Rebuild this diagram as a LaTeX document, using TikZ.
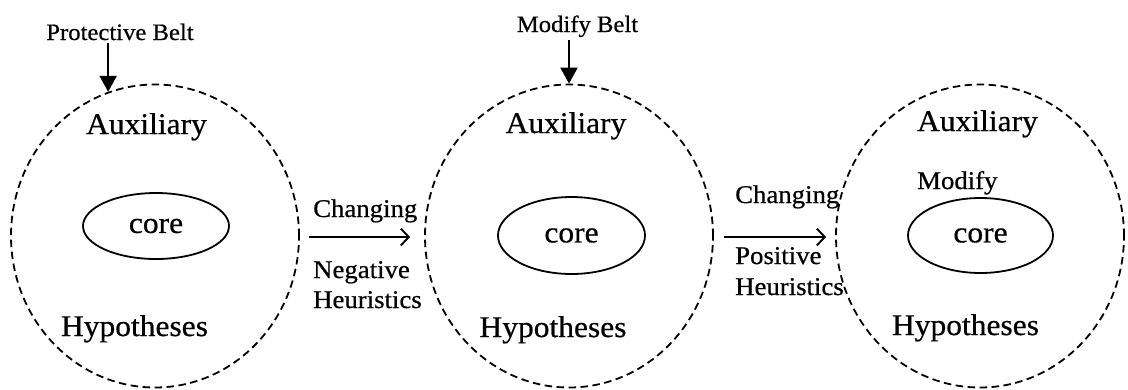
\documentclass[tikz,border=0pt]{standalone}
\usepackage{fontspec}
\setmainfont{Liberation Serif}[FakeStretch=1.05,FakeBold=0.6]
\usetikzlibrary{shapes.geometric,arrows.meta}
\begin{document}
\begin{tikzpicture}[x=1pt,y=-1pt,
  belt/.style={ellipse,draw,dash pattern=on 7.5pt off 4.5pt,line width=1.8pt,
    minimum width=288pt,minimum height=303pt,inner sep=0pt},
  kernel/.style={ellipse,draw,line width=1.8pt,inner sep=0pt,
    font=\fontsize{30}{36}\selectfont},
  big/.style={inner sep=0pt,font=\fontsize{30}{36}\selectfont},
  mid/.style={inner sep=0pt,font=\fontsize{25.5}{30}\selectfont},
  small/.style={inner sep=0pt,outer sep=3pt,font=\fontsize{23.5}{28}\selectfont},
  push/.style={-{Triangle[length=16pt,width=17pt]},line width=2.3pt},
  passage/.style={-{Straight Barb[length=8pt,width=17pt]},line width=1.9pt}
]
\useasboundingbox (0,0) rectangle (1128,389);

% three research programmes: dashed belts
\node[belt] (c1) at (155,236) {};
\node[belt] (c2) at (569,236) {};
\node[belt] (c3) at (980,236) {};

% hard cores
\node[kernel,minimum width=146pt,minimum height=66pt] (k1) at (156,226) {core};
\node[kernel,minimum width=147pt,minimum height=77pt] (k2) at (571.5,235.5) {core};
\node[kernel,minimum width=145pt,minimum height=75pt] (k3) at (980.5,235.5) {core};

% belt texts
\node[big,anchor=base] (a1) at (146.5,134) {Auxiliary};
\node[big,anchor=base] (h1) at (134.5,336) {Hypotheses};
\node[big,anchor=base] (a2) at (566,133) {Auxiliary};
\node[big,anchor=base] (h2) at (553,337) {Hypotheses};
\node[big,anchor=base] (a3) at (977.5,131) {Auxiliary};
\node[big,anchor=base] (h3) at (965.5,335) {Hypotheses};
\node[mid,anchor=base west] (m3) at (917,189) {Modify};

% top labels and their arrows
\node[small,anchor=base] (pb) at (120,40) {Protective Belt};
\node[small,anchor=base] (mb) at (577.5,32) {Modify Belt};
\draw[push] (pb.south -| c1.108) -- (c1.108);
\draw[push] (mb.south -| c2.north) -- (c2.north);

% transitions
\node[mid,anchor=base west] (ch1) at (313,217) {Changing};
\node[mid,anchor=base west] (ng1) at (313,278) {Negative};
\node[mid,anchor=base west] (he1) at (313,308) {Heuristics};
\draw[passage] ([xshift=9pt,yshift=-1pt]c1.east) -- ([xshift=-14pt,yshift=-1pt]c2.west);

\node[mid,anchor=base west] (ch2) at (735,203) {Changing};
\node[mid,anchor=base west] (ps2) at (735,264) {Positive};
\node[mid,anchor=base west] (he2) at (735,295) {Heuristics};
\draw[passage] ([xshift=10pt,yshift=-1pt]c2.east) -- ([xshift=-9pt,yshift=-1pt]c3.west);
\end{tikzpicture}
\end{document}
